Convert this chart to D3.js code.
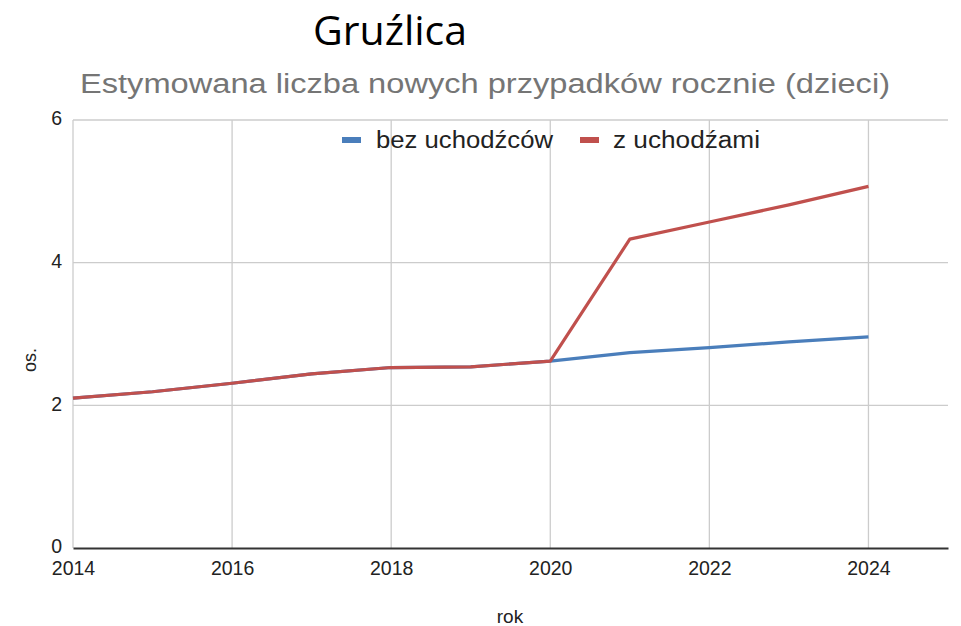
<!DOCTYPE html>
<html><head><meta charset="utf-8">
<script src="https://cdn.jsdelivr.net/npm/d3@7"></script>
<style>body{margin:0;background:#fff}</style>
</head><body>
<svg id="c" width="961" height="626"></svg>
<script>
const years = [2014,2015,2016,2017,2018,2019,2020,2021,2022,2023,2024];
const bezUchodzcow = [2.10,2.19,2.31,2.44,2.53,2.54,2.62,2.74,2.81,2.89,2.96];
const zUchodzami   = [2.10,2.19,2.31,2.44,2.53,2.54,2.62,4.33,4.57,4.81,5.07];
const xTicks = [2014,2016,2018,2020,2022,2024];
const yTicks = [0,2,4,6];
const seriesNames = ["bez uchodźców","z uchodźami"];
const colors = ["#4a7ebb","#c0504d"];

const FONT = "'Liberation Sans', Arial, sans-serif";
const svg = d3.select("#c");
const L=73, R=948, T=120, B=548;
const x = d3.scaleLinear().domain([2014,2025]).range([L,R]);
const y = d3.scaleLinear().domain([0,6]).range([B,T]);

// gridlines
svg.append("g").selectAll("line").data(xTicks).join("line")
  .attr("x1",d=>x(d)).attr("x2",d=>x(d)).attr("y1",T).attr("y2",B)
  .attr("stroke","#cccccc").attr("stroke-width",1.3);
svg.append("g").selectAll("line").data(yTicks.filter(d=>d>0)).join("line")
  .attr("x1",L).attr("x2",R).attr("y1",d=>y(d)).attr("y2",d=>y(d))
  .attr("stroke","#cccccc").attr("stroke-width",1.3);

// axes
const xAxis = svg.append("g").attr("transform",`translate(0,${B})`)
  .call(d3.axisBottom(x).tickValues(xTicks).tickFormat(d3.format("d")).tickSize(0).tickPadding(13));
xAxis.select(".domain").attr("stroke","#333").attr("stroke-width",2);
xAxis.selectAll("text").attr("font-family",FONT).attr("font-size",19.5).attr("fill","#222");

const yAxis = svg.append("g").attr("transform",`translate(${L},0)`)
  .call(d3.axisLeft(y).tickValues(yTicks).tickFormat(d3.format("d")).tickSize(0).tickPadding(11));
yAxis.select(".domain").remove();
yAxis.selectAll("text").attr("font-family",FONT).attr("font-size",19.5).attr("fill","#222").attr("dy","0.25em");

// lines
const line = d3.line().x((d,i)=>x(years[i])).y(d=>y(d));
[bezUchodzcow, zUchodzami].forEach((s,k)=>{
  svg.append("path").datum(s).attr("d",line).attr("fill","none")
    .attr("stroke",colors[k]).attr("stroke-width",3.2).attr("stroke-linejoin","round");
});

// titles
svg.append("text").attr("x",313).attr("y",45)
  .attr("font-family","'Open Sans', Lato, sans-serif").attr("font-size",41).attr("font-weight",400).attr("fill","#000")
  .attr("textLength",154).attr("lengthAdjust","spacingAndGlyphs").text("Gruźlica");
svg.append("text").attr("x",80).attr("y",93)
  .attr("font-family",FONT).attr("font-size",27).attr("fill","#757575")
  .attr("textLength",810).attr("lengthAdjust","spacingAndGlyphs")
  .text("Estymowana liczba nowych przypadków rocznie (dzieci)");

// axis titles
svg.append("text").attr("x",510).attr("y",623).attr("text-anchor","middle")
  .attr("font-family",FONT).attr("font-size",19).attr("fill","#222").text("rok");
svg.append("text").attr("transform","translate(36,360) rotate(-90)").attr("text-anchor","middle")
  .attr("font-family",FONT).attr("font-size",18).attr("fill","#222").text("os.");

// legend
const legX = [342, 580];
const legTextX = [376, 613];
const legLen = [177, 147];
seriesNames.forEach((n,k)=>{
  svg.append("rect").attr("x",legX[k]).attr("y",137).attr("width",19).attr("height",6).attr("fill",colors[k]);
  svg.append("text").attr("x",legTextX[k]).attr("y",148)
    .attr("font-family",FONT).attr("font-size",23).attr("fill","#222")
    .attr("textLength",legLen[k]).attr("lengthAdjust","spacingAndGlyphs").text(n);
});
</script>
</body></html>
